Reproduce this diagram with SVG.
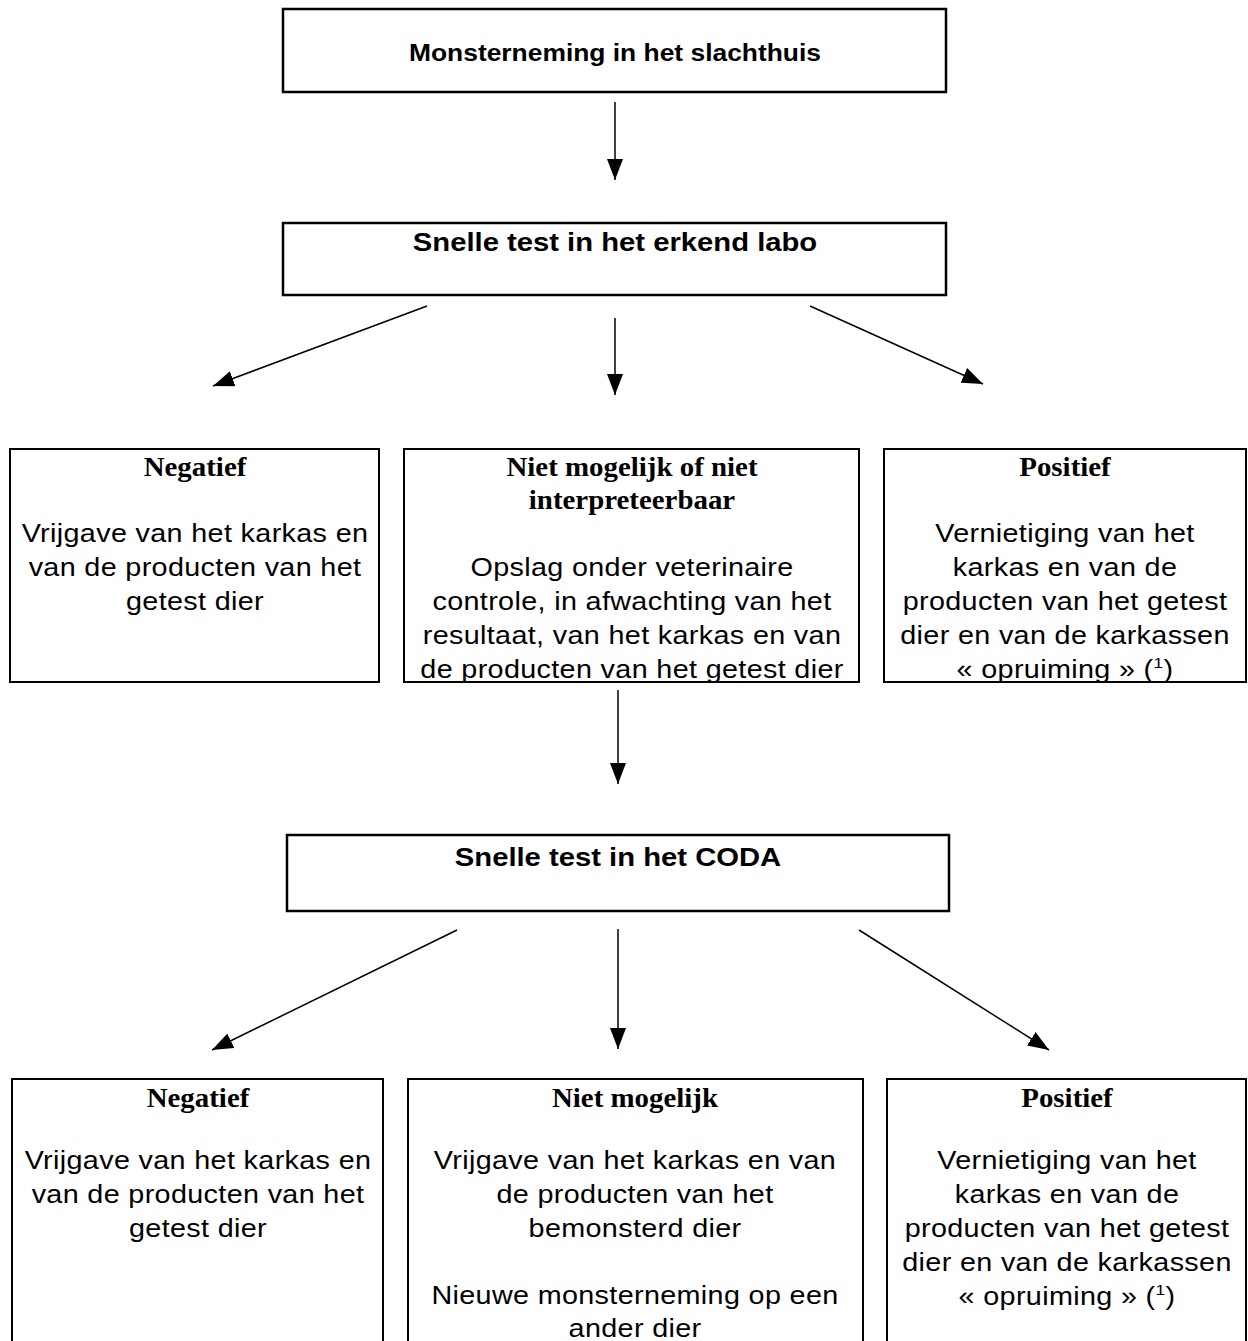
<svg xmlns="http://www.w3.org/2000/svg" width="1248" height="1341" viewBox="0 0 1248 1341">
<defs>
<style>
.box{fill:#fff;stroke:#000;stroke-width:2.5}
.rbox{fill:#fff;stroke:#000;stroke-width:2}
.t{font-family:"Liberation Sans",Arial,sans-serif;font-weight:bold;font-size:25px;text-anchor:middle;fill:#000}
.t1{font-size:24px}
.h{font-family:"Liberation Serif","Times New Roman",serif;font-weight:bold;font-size:27px;text-anchor:middle;fill:#000}
.b{font-family:"Liberation Sans",Arial,sans-serif;font-size:25px;letter-spacing:0.3px;text-anchor:middle;fill:#000}
.sup{font-size:15px}
.conn line{stroke:#000;stroke-width:1.5;marker-end:url(#ah)}
</style>
<marker id="ah" markerUnits="userSpaceOnUse" markerWidth="21" markerHeight="16" refX="21" refY="8" orient="auto">
<path d="M0,0 L21,8 L0,16 z" fill="#000"/>
</marker>
</defs>
<rect width="1248" height="1341" fill="#fff"/>

<g id="connectors" class="conn">
<line x1="615" y1="102" x2="615" y2="180"/>
<line x1="427" y1="306" x2="213" y2="386"/>
<line x1="615" y1="318" x2="615" y2="395"/>
<line x1="810" y1="306" x2="983" y2="384"/>
<line x1="618" y1="690" x2="618" y2="784"/>
<line x1="457" y1="930" x2="212" y2="1050"/>
<line x1="618" y1="929" x2="618" y2="1049"/>
<line x1="859" y1="930" x2="1049" y2="1050"/>
</g>

<g id="n-monsterneming">
<rect class="box" x="283" y="9" width="663" height="83"/>
<text class="t t1" transform="translate(615,61) scale(1.1,1)">Monsterneming in het slachthuis</text>
</g>

<g id="n-snelle-labo">
<rect class="box" x="283" y="223" width="663" height="72"/>
<text class="t" transform="translate(615,251) scale(1.17,1)">Snelle test in het erkend labo</text>
</g>

<g id="n-neg1">
<rect class="rbox" x="10" y="449" width="369" height="233"/>
<text class="h" transform="translate(195,476) scale(1.07,1)">Negatief</text>
<text class="b" transform="translate(195,542) scale(1.15,1)"><tspan x="0" y="0">Vrijgave van het karkas en</tspan><tspan x="0" dy="34">van de producten van het</tspan><tspan x="0" dy="34">getest dier</tspan></text>
</g>

<g id="n-niet1">
<rect class="rbox" x="404" y="449" width="455" height="233"/>
<text class="h" transform="translate(632,476) scale(1.07,1)"><tspan x="0" y="0">Niet mogelijk of niet</tspan><tspan x="0" dy="33">interpreteerbaar</tspan></text>
<text class="b" transform="translate(632,576) scale(1.15,1)"><tspan x="0" y="0">Opslag onder veterinaire</tspan><tspan x="0" dy="34">controle, in afwachting van het</tspan><tspan x="0" dy="34">resultaat, van het karkas en van</tspan><tspan x="0" dy="34">de producten van het getest dier</tspan></text>
</g>

<g id="n-pos1">
<rect class="rbox" x="884" y="449" width="362" height="233"/>
<text class="h" transform="translate(1065,476) scale(1.07,1)">Positief</text>
<text class="b" transform="translate(1065,542) scale(1.15,1)"><tspan x="0" y="0">Vernietiging van het</tspan><tspan x="0" dy="34">karkas en van de</tspan><tspan x="0" dy="34">producten van het getest</tspan><tspan x="0" dy="34">dier en van de karkassen</tspan><tspan x="0" dy="34">« opruiming » (<tspan class="sup" dy="-10">1</tspan><tspan dy="10">)</tspan></tspan></text>
</g>

<g id="n-snelle-coda">
<rect class="box" x="287" y="835" width="662" height="76"/>
<text class="t" transform="translate(618,866) scale(1.17,1)">Snelle test in het CODA</text>
</g>

<g id="n-neg2">
<rect class="rbox" x="12" y="1079" width="371" height="290"/>
<text class="h" transform="translate(198,1107) scale(1.07,1)">Negatief</text>
<text class="b" transform="translate(198,1169) scale(1.15,1)"><tspan x="0" y="0">Vrijgave van het karkas en</tspan><tspan x="0" dy="34">van de producten van het</tspan><tspan x="0" dy="34">getest dier</tspan></text>
</g>

<g id="n-niet2">
<rect class="rbox" x="408" y="1079" width="455" height="290"/>
<text class="h" transform="translate(635,1107) scale(1.07,1)">Niet mogelijk</text>
<text class="b" transform="translate(635,1169) scale(1.15,1)"><tspan x="0" y="0">Vrijgave van het karkas en van</tspan><tspan x="0" dy="34">de producten van het</tspan><tspan x="0" dy="34">bemonsterd dier</tspan><tspan x="0" dy="67">Nieuwe monsterneming op een</tspan><tspan x="0" dy="33">ander dier</tspan></text>
</g>

<g id="n-pos2">
<rect class="rbox" x="887" y="1079" width="359" height="290"/>
<text class="h" transform="translate(1067,1107) scale(1.07,1)">Positief</text>
<text class="b" transform="translate(1067,1169) scale(1.15,1)"><tspan x="0" y="0">Vernietiging van het</tspan><tspan x="0" dy="34">karkas en van de</tspan><tspan x="0" dy="34">producten van het getest</tspan><tspan x="0" dy="34">dier en van de karkassen</tspan><tspan x="0" dy="34">« opruiming » (<tspan class="sup" dy="-10">1</tspan><tspan dy="10">)</tspan></tspan></text>
</g>
</svg>
